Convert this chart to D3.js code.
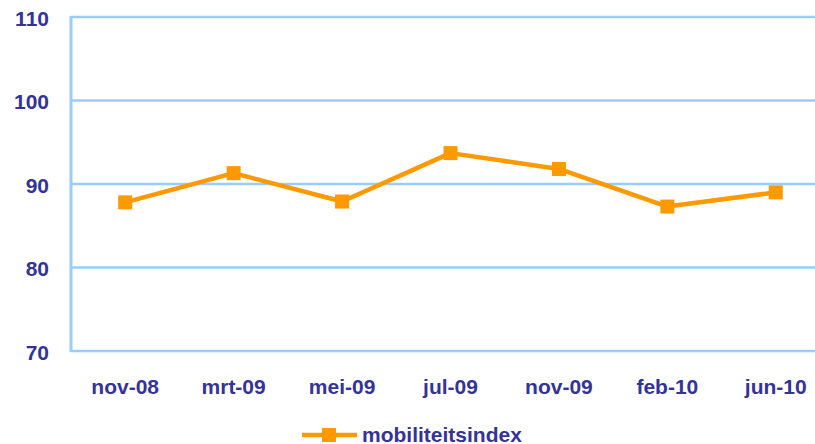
<!DOCTYPE html>
<html><head><meta charset="utf-8">
<script src="https://cdn.jsdelivr.net/npm/d3@7"></script>
<style>body{margin:0;background:#fff}svg{display:block}</style>
</head><body>
<script>
const categories = ["nov-08","mrt-09","mei-09","jul-09","nov-09","feb-10","jun-10"];
const values = [87.8, 91.3, 87.9, 93.7, 91.8, 87.3, 89.0];
const yTicks = [70, 80, 90, 100, 110];
const seriesName = "mobiliteitsindex";

const W = 815, H = 444;
const m = {left: 71, top: 17, right: 830, bottom: 351};
const svg = d3.select("body").append("svg").attr("width", W).attr("height", H);

const x = d3.scaleBand().domain(categories).range([m.left, m.right]);
const y = d3.scaleLinear().domain([70, 110]).range([m.bottom, m.top]);

const font = "'Liberation Sans', Arial, sans-serif";
const navy = "#333399", grid = "#99CCFF", orange = "#FF9900";
const fs = 21;

// gridlines
svg.append("g").selectAll("line").data(yTicks).join("line")
  .attr("x1", m.left).attr("x2", W).attr("y1", d => y(d)).attr("y2", d => y(d))
  .attr("stroke", grid).attr("stroke-width", 2.5);
// left axis line
svg.append("line").attr("x1", m.left).attr("x2", m.left).attr("y1", m.top - 1).attr("y2", m.bottom + 1)
  .attr("stroke", grid).attr("stroke-width", 3);

// y tick labels
svg.append("g").selectAll("text").data(yTicks).join("text")
  .attr("x", 49).attr("y", d => y(d) + 8.5).attr("text-anchor", "end")
  .attr("font-family", font).attr("font-weight", "bold").attr("font-size", fs)
  .attr("fill", navy).text(d => d);

// x labels
svg.append("g").selectAll("text").data(categories).join("text")
  .attr("x", d => x(d) + x.bandwidth() / 2).attr("y", 394).attr("text-anchor", "middle")
  .attr("font-family", font).attr("font-weight", "bold").attr("font-size", fs)
  .attr("fill", navy).text(d => d);

// line
const pts = categories.map((c, i) => [x(c) + x.bandwidth() / 2, y(values[i])]);
svg.append("path").attr("d", d3.line()(pts)).attr("fill", "none")
  .attr("stroke", orange).attr("stroke-width", 4.5).attr("stroke-linejoin", "round");
svg.append("g").selectAll("rect").data(pts).join("rect")
  .attr("x", d => d[0] - 7).attr("y", d => d[1] - 7).attr("width", 14).attr("height", 14)
  .attr("fill", orange);

// legend
const lg = svg.append("g");
lg.append("line").attr("x1", 302).attr("x2", 357).attr("y1", 435).attr("y2", 435)
  .attr("stroke", orange).attr("stroke-width", 4.5);
lg.append("rect").attr("x", 322).attr("y", 428).attr("width", 14).attr("height", 14).attr("fill", orange);
lg.append("text").attr("x", 362).attr("y", 441.5)
  .attr("font-family", font).attr("font-weight", "bold").attr("font-size", fs)
  .attr("fill", navy).text(seriesName);
</script>
</body></html>
